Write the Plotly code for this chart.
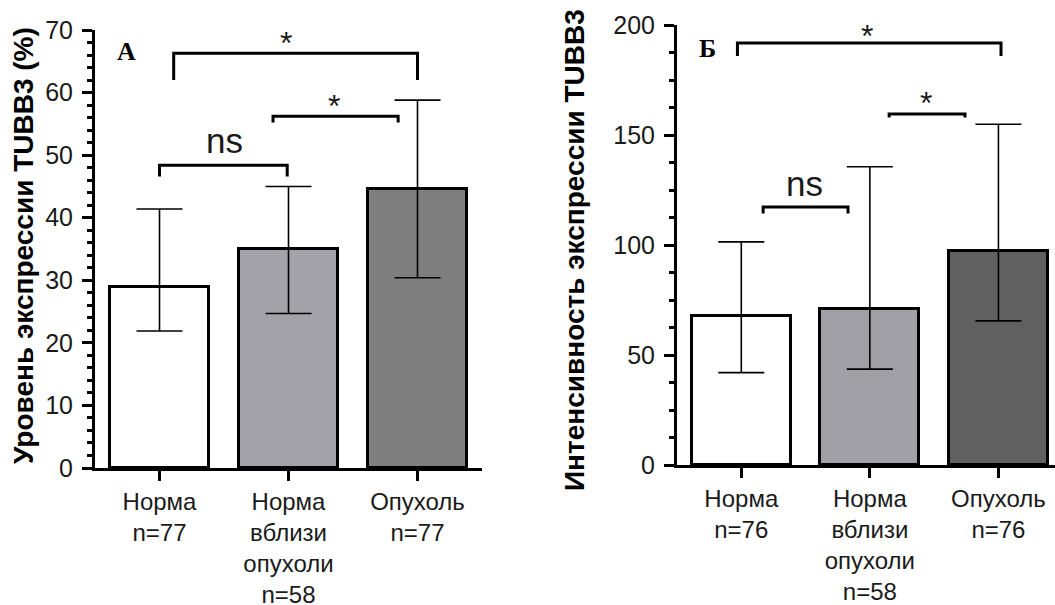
import plotly.graph_objects as go

# Categories and group sizes
categories_a = ["Норма<br>n=77", "Норма<br>вблизи<br>опухоли<br>n=58", "Опухоль<br>n=77"]
categories_b = ["Норма<br>n=76", "Норма<br>вблизи<br>опухоли<br>n=58", "Опухоль<br>n=76"]

# Panel A: level of TUBB3 expression (%), median with lower/upper bounds
level_median = [29.0, 35.0, 44.6]
level_low = [21.9, 24.7, 30.4]
level_high = [41.4, 45.0, 58.8]

# Panel Б: intensity of TUBB3 expression
intensity_median = [67.7, 71.0, 97.3]
intensity_low = [42.0, 43.6, 65.5]
intensity_high = [101.4, 135.6, 154.9]

bar_colors_a = ["#ffffff", "#a3a2a8", "#7f7f7f"]
bar_colors_b = ["#ffffff", "#a1a0a6", "#606060"]

# Significance brackets: (x_start, x_end, y_bar, y_tail, label, x_label, y_label, size)
brackets_a = [
    (0.11, 2.0, 66.3, 62.0, "*", 0.98, 68.0, 32),
    (0.88, 1.85, 56.2, 55.2, "*", 1.35, 57.8, 32),
    (0.0, 0.99, 48.4, 46.6, "ns", 0.5, 52.3, 35),
]
brackets_b = [
    (-0.03, 2.02, 191.8, 185.9, "*", 0.98, 195.0, 32),
    (1.15, 1.74, 159.5, 158.0, "*", 1.44, 164.5, 32),
    (0.17, 0.83, 117.3, 114.3, "ns", 0.49, 127.8, 35),
]

fig = go.Figure()


def add_panel(cats, med, lo, hi, colors, xa, ya):
    x = list(range(len(cats)))
    fig.add_trace(go.Bar(
        x=x, y=med, width=0.77,
        marker=dict(color=colors, line=dict(color="black", width=3)),
        error_y=dict(type="data", symmetric=False,
                     array=[h - m for h, m in zip(hi, med)],
                     arrayminus=[m - l for m, l in zip(med, lo)],
                     color="black", thickness=1.6, width=23),
        xaxis=xa, yaxis=ya, showlegend=False,
    ))


add_panel(categories_a, level_median, level_low, level_high, bar_colors_a, "x", "y")
add_panel(categories_b, intensity_median, intensity_low, intensity_high, bar_colors_b, "x2", "y2")

sans = "Liberation Sans, Arial, sans-serif"
ytick_font = dict(family=sans, size=25, color="#1a1a1a")
xtick_font = dict(family=sans, size=24, color="#1a1a1a")

axis_common = dict(showline=True, linecolor="black", linewidth=3, showgrid=False,
                   zeroline=False, ticks="outside", tickcolor="black", tickwidth=3,
                   ticklen=10, automargin=False)

fig.update_layout(
    width=1055, height=605,
    margin=dict(l=0, r=0, t=0, b=0),
    paper_bgcolor="white", plot_bgcolor="white",
    bargap=0,
    xaxis=dict(domain=[95 / 1055, 482 / 1055], range=[-0.5, 2.5], tickfont=xtick_font,
               tickvals=[0, 1, 2], ticktext=categories_a, anchor="y", **axis_common),
    yaxis=dict(domain=[137 / 605, 575 / 605], range=[0, 70], dtick=10, tickfont=ytick_font,
               anchor="x", ticklabelstandoff=4,
               minor=dict(dtick=2, ticks="outside", ticklen=5, tickwidth=3, tickcolor="black"),
               **axis_common),
    xaxis2=dict(domain=[677 / 1055, 1.0], range=[-0.5, 2.44], tickfont=xtick_font,
                tickvals=[0, 1, 2], ticktext=categories_b, anchor="y2", **axis_common),
    yaxis2=dict(domain=[140 / 605, 580 / 605], range=[0, 200], dtick=50, tickfont=ytick_font,
                anchor="x2", ticklabelstandoff=4,
                minor=dict(dtick=12.5, ticks="outside", ticklen=5, tickwidth=3, tickcolor="black"),
                **axis_common),
)

shapes = []
annotations = []
for brs, xr, yr in [(brackets_a, "x", "y"), (brackets_b, "x2", "y2")]:
    for x0, x1, yb, yt, label, lx, ly, fs in brs:
        shapes.append(dict(type="path", xref=xr, yref=yr,
                           path=f"M {x0},{yt} L {x0},{yb} L {x1},{yb} L {x1},{yt}",
                           line=dict(color="black", width=3)))
        annotations.append(dict(x=lx, y=ly, xref=xr, yref=yr, text=label, showarrow=False,
                                xanchor="center", yanchor="middle",
                                font=dict(family=sans, size=fs, color="#1a1a1a")))

# Panel letters
serif = "Liberation Serif, Times New Roman, serif"
for letter, px, py in [("A", 126, 52), ("Б", 707, 48)]:
    annotations.append(dict(x=px / 1055, y=1 - py / 605, xref="paper", yref="paper",
                            text=f"<b>{letter}</b>", showarrow=False,
                            xanchor="center", yanchor="middle",
                            font=dict(family=serif, size=26, color="black")))

# Axis titles
title_font = dict(family=sans, size=28, color="black")
annotations.append(dict(x=24 / 1055, y=1 - 246 / 605, xref="paper", yref="paper",
                        text="<b>Уровень экспрессии TUBB3 (%)</b>", textangle=-90,
                        xanchor="center", yanchor="middle",
                        showarrow=False, font=title_font))
annotations.append(dict(x=575 / 1055, y=1 - 250 / 605, xref="paper", yref="paper",
                        text="<b>Интенсивность экспрессии TUBB3</b>", textangle=-90,
                        xanchor="center", yanchor="middle",
                        showarrow=False, font=title_font))

fig.update_layout(shapes=shapes, annotations=annotations)

fig.write_html("out.html")
